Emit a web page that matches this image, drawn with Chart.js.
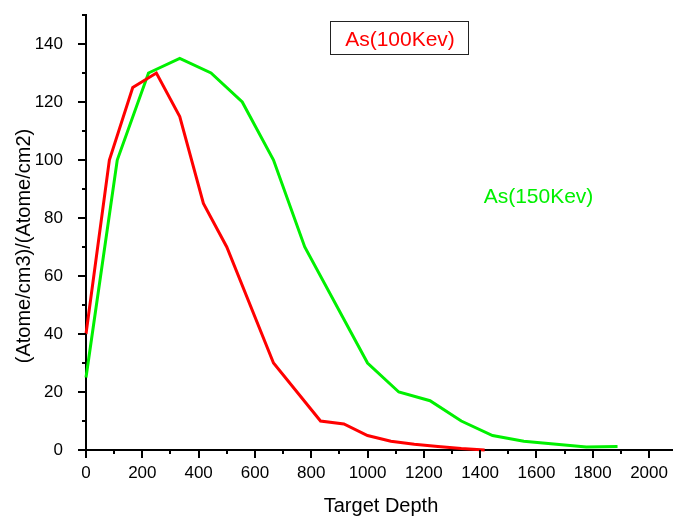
<!DOCTYPE html>
<html><head><meta charset="utf-8">
<script src="https://cdn.jsdelivr.net/npm/chart.js@4/dist/chart.umd.min.js"></script>
<style>html,body{margin:0;padding:0;background:#fff}</style>
</head><body>
<canvas id="c" width="673" height="517"></canvas>
<script>
const depth100 = [0, 83, 166, 250, 333, 417, 500, 666, 833, 916, 1000, 1083, 1166, 1250, 1333, 1416];
const conc100  = [40, 100, 125, 130, 115, 85, 70, 30, 10, 9, 5, 3, 2, 1.2, 0.5, 0];
const depth150 = [0, 111, 222, 333, 444, 555, 666, 777, 1000, 1111, 1222, 1333, 1444, 1555, 1777, 1888];
const conc150  = [25, 100, 130, 135, 130, 120, 100, 70, 30, 20, 17, 10, 5, 3, 1, 1.2];
const xLabels = [0, 200, 400, 600, 800, 1000, 1200, 1400, 1600, 1800, 2000];
const yLabels = [0, 20, 40, 60, 80, 100, 120, 140];
const label100 = 'As(100Kev)';
const label150 = 'As(150Kev)';
const xTitle = 'Target Depth';
const yTitle = '(Atome/cm3)/(Atome/cm2)';

const FONT = "'Liberation Sans', Arial, sans-serif";
const RED = '#ff0000', GREEN = '#00f000';
const toPts = (xs, ys) => xs.map((x, i) => ({x: x, y: ys[i]}));

const extras = {
  id: 'extras',
  afterDraw(chart) {
    const ctx = chart.ctx;
    const xs = chart.scales.x, ys = chart.scales.y;
    const ca = chart.chartArea;
    ctx.save();
    ctx.strokeStyle = '#000';
    ctx.lineWidth = 2;
    xs.ticks.forEach(t => {
      if (t.value % 100 !== 0) return;
      const px = Math.round(xs.getPixelForValue(t.value));
      const len = xLabels.includes(t.value) ? 8 : 4;
      ctx.beginPath(); ctx.moveTo(px, ca.bottom); ctx.lineTo(px, ca.bottom + len); ctx.stroke();
    });
    ys.ticks.forEach(t => {
      if (t.value % 10 !== 0) return;
      const py = Math.round(ys.getPixelForValue(t.value));
      const len = yLabels.includes(t.value) ? 8 : 4;
      ctx.beginPath(); ctx.moveTo(ca.left, py); ctx.lineTo(ca.left - len, py); ctx.stroke();
    });
    ctx.fillStyle = '#000';
    ctx.font = '20px ' + FONT;
    ctx.textAlign = 'center';
    ctx.textBaseline = 'alphabetic';
    ctx.fillText(xTitle, 381, 512);
    ctx.save();
    ctx.translate(30, 246);
    ctx.rotate(-Math.PI / 2);
    ctx.fillText(yTitle, 0, 0);
    ctx.restore();
    ctx.lineWidth = 1;
    ctx.strokeStyle = '#222';
    ctx.fillStyle = '#fff';
    ctx.fillRect(330.5, 21.5, 138, 33);
    ctx.strokeRect(330.5, 21.5, 138, 33);
    ctx.font = '21px ' + FONT;
    ctx.fillStyle = RED;
    ctx.fillText(label100, 400, 46);
    ctx.fillStyle = GREEN;
    ctx.fillText(label150, 538.5, 203);
    ctx.restore();
  }
};

new Chart(document.getElementById('c'), {
  type: 'line',
  data: {
    datasets: [
      {label: label100, data: toPts(depth100, conc100), borderColor: RED, borderWidth: 3, pointRadius: 0, tension: 0, clip: 6},
      {label: label150, data: toPts(depth150, conc150), borderColor: GREEN, borderWidth: 3, pointRadius: 0, tension: 0, clip: 6}
    ]
  },
  options: {
    responsive: false,
    animation: false,
    layout: {padding: {top: 15, right: 0, left: 0, bottom: 0}},
    plugins: {legend: {display: false}, tooltip: {enabled: false}},
    scales: {
      x: {
        type: 'linear', min: 0, max: 2085,
        grid: {display: false},
        border: {display: true, color: '#000', width: 2},
        afterFit: s => { s.height = 67; s.paddingLeft = 0; s.paddingRight = 0; },
        ticks: {
          stepSize: 100, autoSkip: false, maxRotation: 0, includeBounds: false,
          color: '#000', font: {family: FONT, size: 17}, padding: 5,
          callback: v => xLabels.includes(v) ? String(v) : ''
        }
      },
      y: {
        type: 'linear', min: 0, max: 150,
        grid: {display: false},
        border: {display: true, color: '#000', width: 2},
        afterFit: s => { s.width = 86; s.paddingTop = 0; s.paddingBottom = 0; },
        ticks: {
          stepSize: 10, autoSkip: false, includeBounds: true,
          color: '#000', font: {family: FONT, size: 17}, padding: 15,
          callback: v => yLabels.includes(v) ? String(v) : ''
        }
      }
    }
  },
  plugins: [extras]
});
</script>
</body></html>
